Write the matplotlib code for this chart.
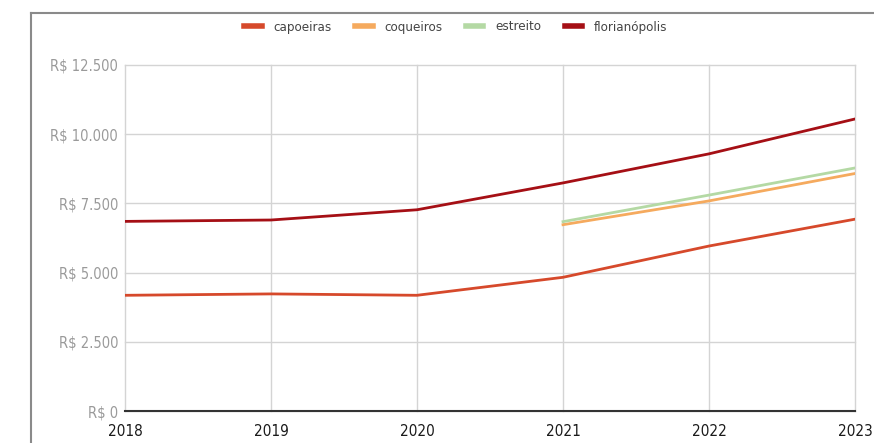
import matplotlib
matplotlib.use("Agg")
import matplotlib.pyplot as plt
from matplotlib.lines import Line2D

years = [2018, 2019, 2020, 2021, 2022, 2023]
capoeiras = [4180, 4230, 4180, 4830, 5960, 6930]
coqueiros_years = [2021, 2022, 2023]
coqueiros = [6730, 7590, 8580]
estreito_years = [2021, 2022, 2023]
estreito = [6840, 7800, 8780]
florianopolis = [6850, 6900, 7270, 8240, 9290, 10550]
yticks = [0, 2500, 5000, 7500, 10000, 12500]
ytick_labels = ["R$ 0", "R$ 2.500", "R$ 5.000", "R$ 7.500", "R$ 10.000", "R$ 12.500"]

plt.rcParams['font.family'] = ['DejaVu Sans']
plt.rcParams['font.stretch'] = 'condensed'

fig = plt.figure(figsize=(8.74, 4.43), dpi=100)
ax = fig.add_axes([125/874, 1-411/443, 730/874, 346/443])

c_cap = "#d6492b"
c_coq = "#f5aa5e"
c_est = "#b4d9a4"
c_flo = "#a50f15"

ax.plot(years, capoeiras, color=c_cap, lw=2, label="capoeiras", zorder=3)
ax.plot(coqueiros_years, coqueiros, color=c_coq, lw=2, label="coqueiros", zorder=3)
ax.plot(estreito_years, estreito, color=c_est, lw=2, label="estreito", zorder=3)
ax.plot(years, florianopolis, color=c_flo, lw=2, label="florianópolis", zorder=3)

ax.set_xlim(2018, 2023)
ax.set_ylim(0, 12500)
ax.set_xticks(years)
ax.set_xticklabels([str(y) for y in years], fontsize=11, color="#1a1a1a", fontstretch='condensed')
ax.set_yticks(yticks)
ax.set_yticklabels(ytick_labels, fontsize=10.5, color="#9a9a9a", fontstretch='condensed')
ax.grid(True, color="#d4d4d4", lw=1)
for gl in ax.get_xgridlines() + ax.get_ygridlines():
    gl.set_clip_on(False)
ax.set_axisbelow(True)
for s in ["top", "right", "left"]:
    ax.spines[s].set_visible(False)
ax.spines["bottom"].set_color("#333333")
ax.spines["bottom"].set_linewidth(1.5)
ax.spines["bottom"].set_zorder(4)
ax.tick_params(axis="both", length=0)
ax.tick_params(axis="x", pad=9)
ax.tick_params(axis="y", pad=5)

handles = [Line2D([0], [0], color=c, lw=4) for c in [c_cap, c_coq, c_est, c_flo]]
fig.legend(handles, ["capoeiras", "coqueiros", "estreito", "florianópolis"],
           loc="center", bbox_to_anchor=(456/874, 1-27/443), ncol=4, frameon=False,
           prop={'size': 9.5, 'stretch': 'condensed'}, handlelength=1.3,
           columnspacing=1.8, handletextpad=0.9, labelcolor="#444444")

# outer frame lines (top and left)
fig.add_artist(Line2D([31/874, 1], [1-13/443, 1-13/443], color="#8a8a8a", lw=1.5))
fig.add_artist(Line2D([31/874, 31/874], [0, 1-13/443], color="#8a8a8a", lw=1.5))

fig.savefig("out.png", dpi=100)
